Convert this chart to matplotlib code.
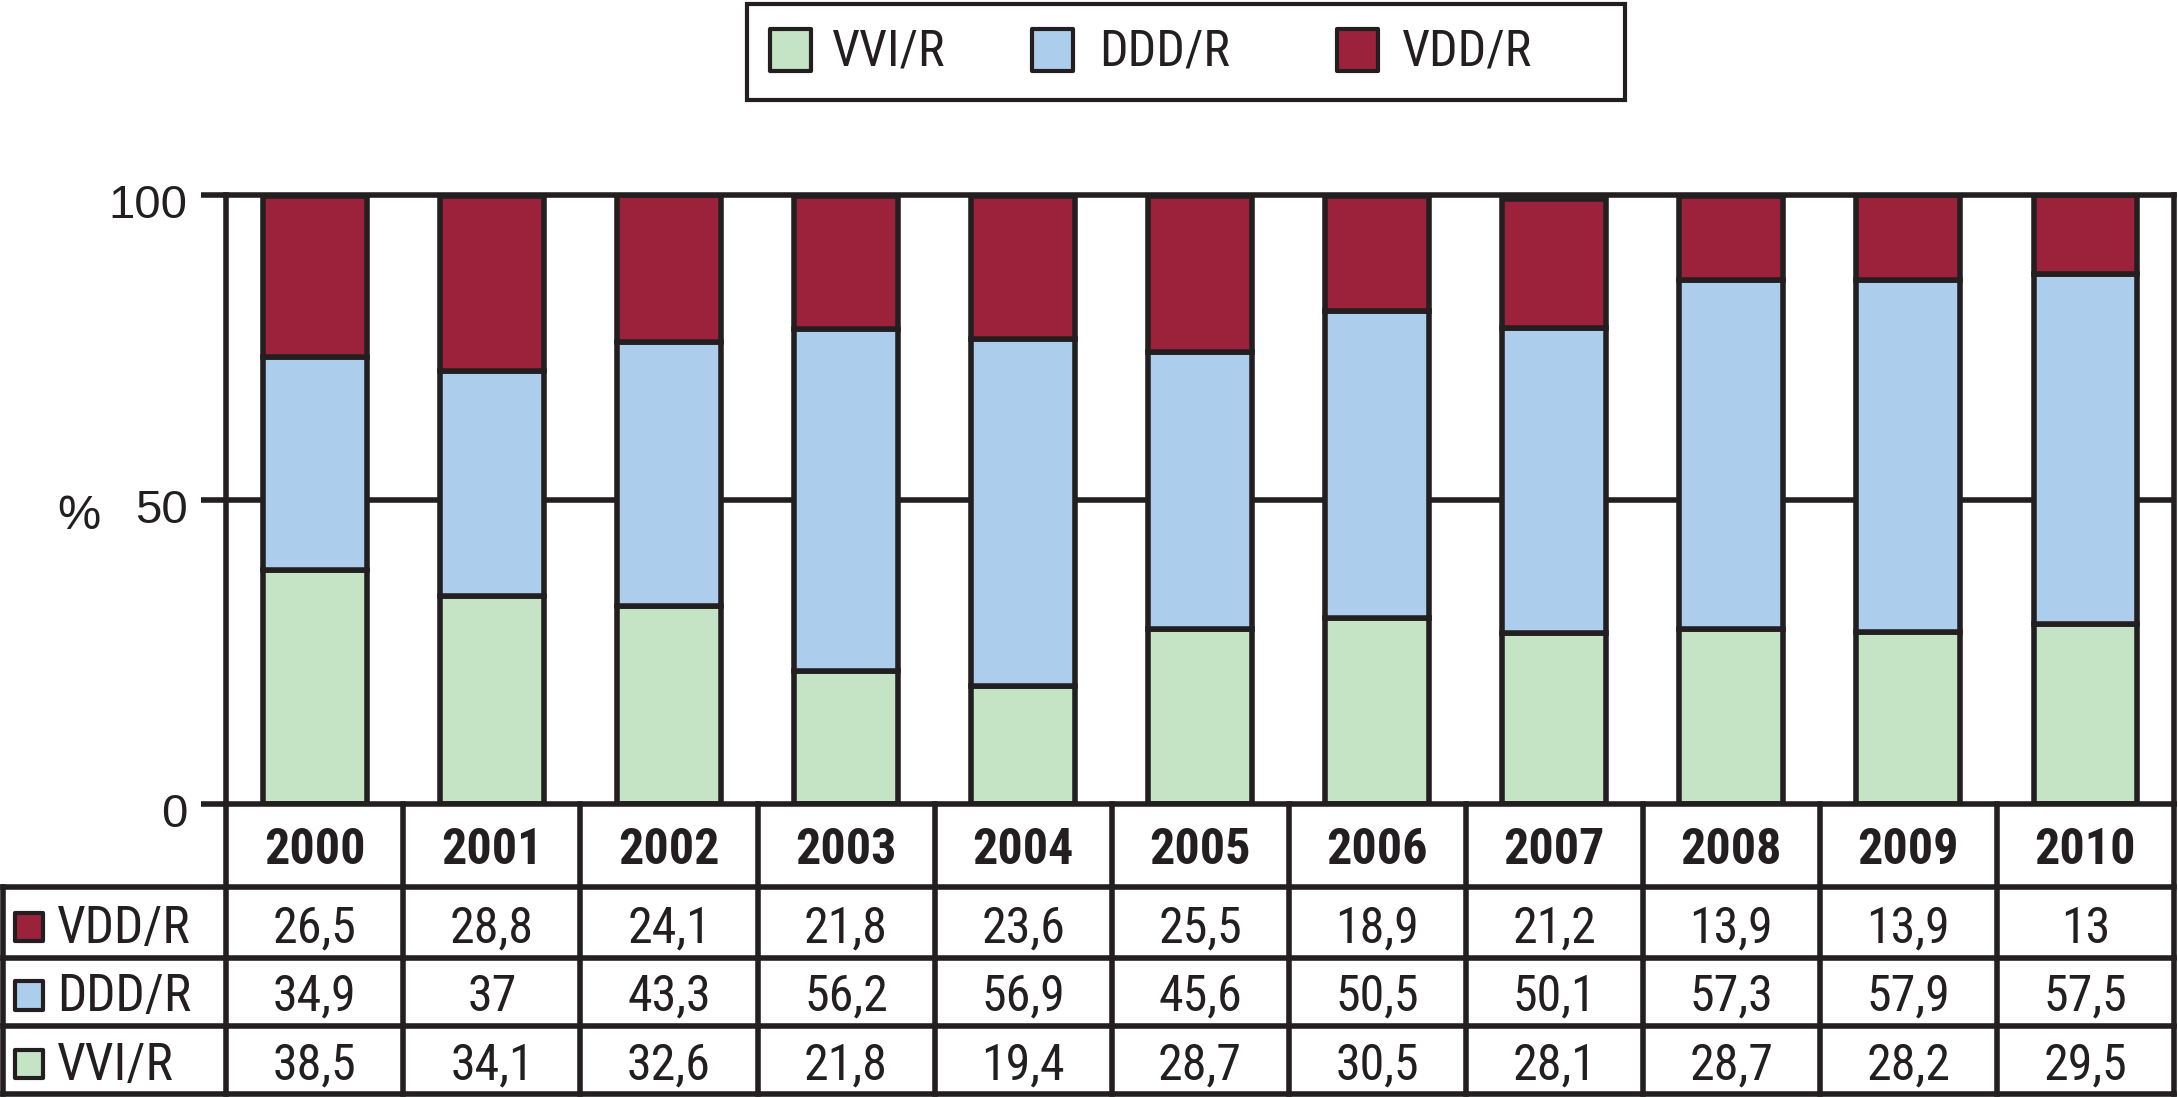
import matplotlib
matplotlib.use('Agg')
from matplotlib import pyplot as plt
from matplotlib.patches import Rectangle
from matplotlib.transforms import ScaledTranslation

years = ['2000', '2001', '2002', '2003', '2004', '2005', '2006', '2007', '2008', '2009', '2010']
vvi = [38.5, 34.1, 32.6, 21.8, 19.4, 28.7, 30.5, 28.1, 28.7, 28.2, 29.5]
ddd = [34.9, 37, 43.3, 56.2, 56.9, 45.6, 50.5, 50.1, 57.3, 57.9, 57.5]
vdd = [26.5, 28.8, 24.1, 21.8, 23.6, 25.5, 18.9, 21.2, 13.9, 13.9, 13]
series_names = ['VVI/R', 'DDD/R', 'VDD/R']
y_ticks = [0, 50, 100]

GREEN = '#C5E4C5'
BLUE = '#ADCDEC'
RED = '#9B223A'
INK = '#231F20'
LW = 4
NARROW = ['Roboto Condensed', 'Archivo Narrow', 'Liberation Sans', 'DejaVu Sans']
REGULAR = ['Liberation Sans', 'DejaVu Sans']

# layout measured in a 1568x790 frame
W, H = 1568.0, 790.0
fig = plt.figure(figsize=(21.78, 10.97), dpi=100)


def fx(px):
    return px / W


def fy(py):
    return 1 - py / H


ax_l, ax_r = fx(163), fx(1565)
ax_b, ax_t = fy(579), fy(140.5)
ax = fig.add_axes([ax_l, ax_b, ax_r - ax_l, ax_t - ax_b])

x = list(range(len(years)))
bottoms_ddd = vvi
bottoms_vdd = [a + b for a, b in zip(vvi, ddd)]
bw = 0.585
ax.axhline(50, color=INK, lw=LW, zorder=0)
ax.bar(x, vvi, bw, color=GREEN, edgecolor=INK, linewidth=LW, zorder=2)
ax.bar(x, ddd, bw, bottom=bottoms_ddd, color=BLUE, edgecolor=INK, linewidth=LW, zorder=2)
ax.bar(x, vdd, bw, bottom=bottoms_vdd, color=RED, edgecolor=INK, linewidth=LW, zorder=2)

ax.set_xlim(-0.5, len(years) - 0.5)
ax.set_ylim(0, 100)
ax.set_xticks([])
ax.set_yticks(y_ticks)
ax.set_yticklabels([str(t) for t in y_ticks], family=REGULAR, fontsize=34, color=INK)
ax.tick_params(axis='y', length=18, width=LW, color=INK, pad=10)
shift = ScaledTranslation(0, -0.06, fig.dpi_scale_trans)
for lab in ax.get_yticklabels():
    lab.set_transform(lab.get_transform() + shift)
for s in ax.spines.values():
    s.set_linewidth(LW)
    s.set_color(INK)
    s.set_zorder(3)

fig.text(fx(57), fy(372), '%', family=REGULAR, fontsize=35, color=INK, ha='center', va='center')

# table below the plot, sharing the category scale
unit = (ax_r - ax_l) / len(years)
tab_b, tab_t = fy(787.5), ax_b
tax = fig.add_axes([0, tab_b, ax_r, tab_t - tab_b])
x_left = -0.5 - ax_l / unit
tax.set_xlim(x_left, len(years) - 0.5)
tax.set_ylim(0, 208.5)
tax.axis('off')

cat_px = (1565 - 163) / len(years)
row_edges = [0, 48.5, 97.5, 148.5]
edge_x = x_left + 2.5 / cat_px
for i in range(len(years) + 1):
    tax.plot([i - 0.5, i - 0.5], [0, 208.5], color=INK, lw=LW, clip_on=False, solid_capstyle='projecting')
tax.plot([edge_x, edge_x], [0, 148.5], color=INK, lw=LW, clip_on=False, solid_capstyle='projecting')
for yv in row_edges:
    tax.plot([edge_x, len(years) - 0.5], [yv, yv], color=INK, lw=LW, clip_on=False,
             solid_capstyle='projecting')

for i, yr in enumerate(years):
    tax.text(i, 165.5, yr, family=NARROW, fontsize=36, fontweight='bold', ha='center', va='baseline',
             color=INK)

rows = [(vdd, 'VDD/R', RED, 108.5), (ddd, 'DDD/R', BLUE, 59.5), (vvi, 'VVI/R', GREEN, 10)]
for vals, name, col, base in rows:
    tax.add_patch(Rectangle((x_left + 10.8 / cat_px, base + 1), 20.5 / cat_px, 20.5, facecolor=col,
                            edgecolor=INK, linewidth=3, joinstyle='round', clip_on=False))
    tax.text(x_left + 41 / cat_px, base, name, family=NARROW, fontsize=37, ha='left', va='baseline',
             color=INK)
    for i, v in enumerate(vals):
        tax.text(i, base, f'{v:g}'.replace('.', ','), family=NARROW, fontsize=36, ha='center',
                 va='baseline', color=INK)

# legend box drawn at the measured spots
fig.patches.append(Rectangle((fx(538), fy(72)), fx(1170) - fx(538), fy(3) - fy(72),
                             transform=fig.transFigure, facecolor='white', edgecolor=INK, linewidth=3))
leg_handle_x = [553, 741.5, 961]
leg_text_x = [599, 791, 1009]
for name, col, hx, tx in zip(series_names, (GREEN, BLUE, RED), leg_handle_x, leg_text_x):
    fig.patches.append(Rectangle((fx(hx + 1.5), fy(51)), fx(29.5), fy(21) - fy(51), transform=fig.transFigure,
                                 facecolor=col, edgecolor=INK, linewidth=3, joinstyle='round'))
    fig.text(fx(tx), fy(47), name, family=NARROW, fontsize=36, ha='left', va='baseline', color=INK)

fig.savefig('out.png', dpi=100)
